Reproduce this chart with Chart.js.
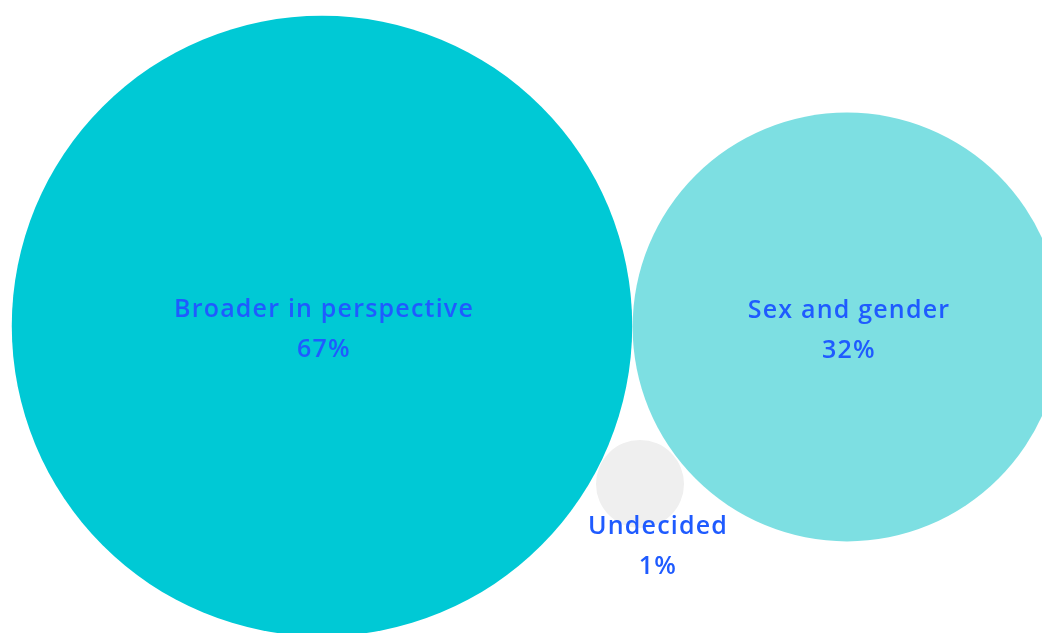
<!DOCTYPE html>
<html>
<head>
<meta charset="utf-8">
<script src="https://cdn.jsdelivr.net/npm/chart.js@4/dist/chart.umd.min.js"></script>
<style>
  html, body { margin: 0; padding: 0; background: #ffffff; }
  #chart { display: block; }
</style>
</head>
<body>
<canvas id="chart" width="1042" height="633"></canvas>
<script>
// Survey answers and their share (%)
const categories = ['Broader in perspective', 'Sex and gender', 'Undecided'];
const shares = [67, 32, 1];

// Packed bubble centres (layout units, 0-1042 across, 0-633 down)
const centerX = [322, 847, 640];
const centerY = [326, 327, 484];

const fillColors = ['#00c9d5', '#7ddfe2', '#efefef'];
const labelColor = '#1f5bff';

// Bubble area follows the share; tiny shares get a floor size
function radiusFor(v) {
  return Math.max(44, 37.9 * Math.sqrt(v));
}

// Writes the category and percentage on each bubble
const bubbleLabels = {
  id: 'bubbleLabels',
  afterDatasetsDraw(chart) {
    const ctx = chart.ctx;
    const meta = chart.getDatasetMeta(0);
    ctx.save();
    ctx.fillStyle = labelColor;
    ctx.textAlign = 'center';
    ctx.textBaseline = 'middle';
    ctx.font = '600 25px "Open Sans", "Noto Sans", sans-serif';
    ctx.letterSpacing = '1.2px';
    meta.data.forEach((pt, i) => {
      const r = radiusFor(shares[i]);
      let x = pt.x + 2;
      let y = pt.y - 16;
      // small bubbles carry their label underneath, nudged right
      if (r < 60) {
        x = pt.x + 18;
        y = pt.y + r - 1;
      }
      ctx.fillText(categories[i], x, y);
      ctx.fillText(shares[i] + '%', x, y + 40);
    });
    ctx.restore();
  }
};

new Chart(document.getElementById('chart'), {
  type: 'bubble',
  data: {
    labels: categories,
    datasets: [{
      data: shares.map((v, i) => ({ x: centerX[i], y: centerY[i], r: radiusFor(v) })),
      backgroundColor: fillColors,
      borderWidth: 0,
      hoverBorderWidth: 0,
      clip: false
    }]
  },
  options: {
    responsive: false,
    animation: false,
    devicePixelRatio: 1,
    layout: { padding: 0, autoPadding: false },
    plugins: {
      legend: { display: false },
      tooltip: { enabled: false }
    },
    scales: {
      x: { type: 'linear', display: false, min: 0, max: 1042 },
      y: { type: 'linear', display: false, min: 0, max: 633, reverse: true }
    }
  },
  plugins: [bubbleLabels]
});
</script>
</body>
</html>
